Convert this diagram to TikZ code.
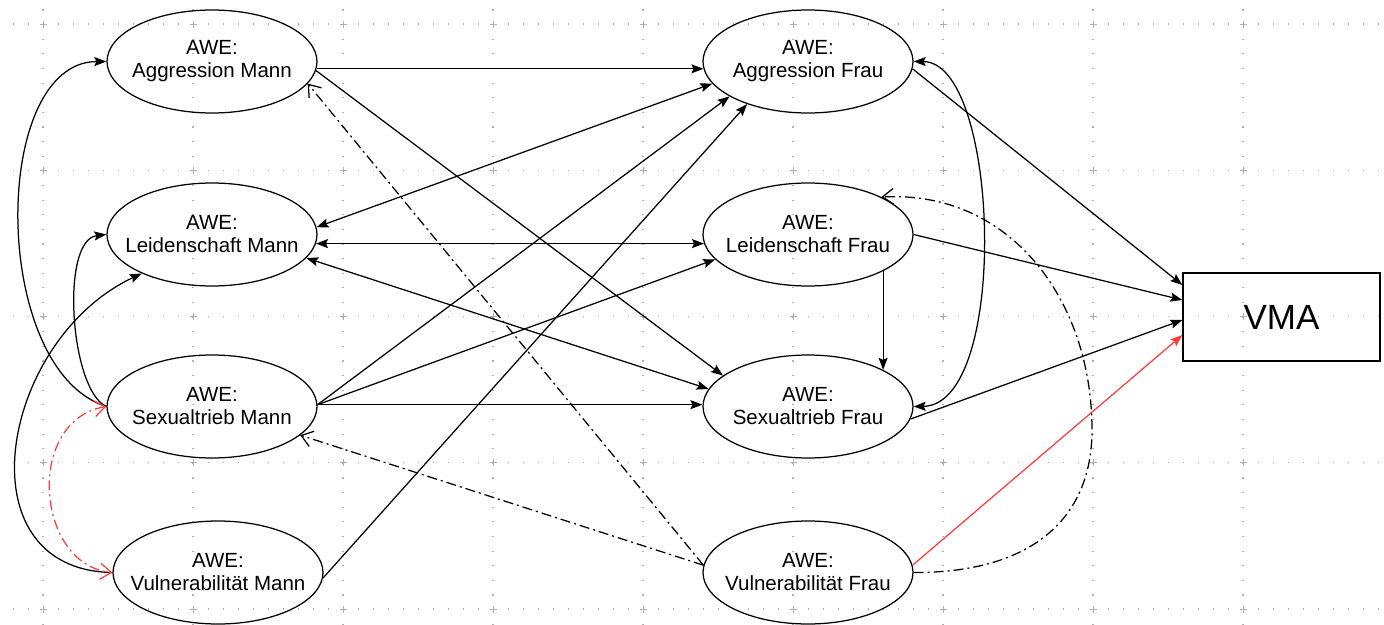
\documentclass[tikz,border=0pt]{standalone}
\usepackage{fontspec}
\setmainfont{Liberation Sans}
\usetikzlibrary{shapes.geometric,arrows.meta}
\definecolor{gridc}{RGB}{175,175,175}
\definecolor{vred}{RGB}{255,60,60}
\begin{document}
\begin{tikzpicture}[x=1pt,y=-1pt,
  var/.style={ellipse, draw, line width=1.25pt, minimum width=210pt, minimum height=103pt,
    inner sep=0pt, label={[font=\fontsize{20.5}{23}\selectfont, align=center]center:#1}},
  box/.style={rectangle, draw, line width=1.25pt, minimum width=197pt, minimum height=88pt,
    inner sep=0pt, font=\fontsize{35}{40}\selectfont},
  con/.style={line width=1.25pt, -{Stealth[length=12pt,width=9pt,inset=2pt]}},
  bi/.style={line width=1.25pt, {Stealth[length=12pt,width=9pt,inset=2pt]}-{Stealth[length=12pt,width=9pt,inset=2pt]}},
  dd/.style={line width=1.25pt, dash pattern=on 10pt off 4pt on 2pt off 4pt, -{Straight Barb[length=11pt,width=16pt]}},
  rdd/.style={vred, line width=1.25pt, dash pattern=on 10pt off 4pt on 2pt off 4pt,
    {Straight Barb[length=11pt,width=16pt]}-{Straight Barb[length=11pt,width=16pt]}},
  gridline/.style={gridc, line width=1.2pt}
]
\useasboundingbox (0,0) rectangle (1384,624);
% grid
\foreach \x in {43,193,...,1243}
  \draw[gridline, dash pattern=on 1.2pt off 13.425pt] (\x,-5.25) -- (\x,630);
\foreach \y in {24,170.25,316.5,462.75,609}
  \draw[gridline, dash pattern=on 1.2pt off 13.8pt] (-2,\y) -- (1390,\y);
\foreach \x in {43,193,...,1243}
  \foreach \y in {24,170.25,316.5,462.75,609}
    \draw[gridline, line width=0.9pt] (\x-3.5,\y) -- (\x+3.5,\y) (\x,\y-3.5) -- (\x,\y+3.5);
% nodes
\node[var={AWE:\\Aggression Mann}] (AgM)   at (212,61.5)  {};
\node[var={AWE:\\Leidenschaft Mann}] (LeidM) at (212,234.5) {};
\node[var={AWE:\\Sexualtrieb Mann}] (SexM)  at (212,406.5) {};
\node[var={AWE:\\Vulnerabilität Mann}] (VulM)  at (218,572.5) {};
\node[var={AWE:\\Aggression Frau}] (AgF)   at (808,61.5)  {};
\node[var={AWE:\\Leidenschaft Frau}] (LeidF) at (808,234.5) {};
\node[var={AWE:\\Sexualtrieb Frau}] (SexF)  at (808,406.5) {};
\node[var={AWE:\\Vulnerabilität Frau}] (VulF)  at (808,572.5) {};
\node[box] (VMA)   at (1281.5,317) {VMA};
% connectors
\draw[con] (AgM.-4) -- (AgF.184);
\draw[con] (AgM.-5) -- (SexF.160);
\draw[bi] (LeidM.4) -- (AgF.193);
\draw[bi] (LeidM.-5) -- (LeidF.185);
\draw[bi] (LeidM.-14) -- (SexF.170);
\draw[con] (SexM.1) -- (AgF.204);
\draw[con] (SexM.1) -- (LeidF.195);
\draw[con] (SexM.1) -- (SexF.179);
\draw[con] (VulM.-3) -- (AgF.215);
\draw[con] (SexM.180) .. controls (-10,370) and (-10,62) .. (AgM.180);
\draw[con] (SexM.180) .. controls (70,390) and (60,240) .. (LeidM.180);
\draw[con] (VulM.180) .. controls (-40,570) and (0,340) .. (LeidM.209);
\draw[rdd] (SexM.180) .. controls (25,420) and (35,565) .. (VulM.180);
\draw[dd] (VulF.176) -- (AgM.-13);
\draw[dd] (VulF.176) -- (SexM.-18);
\draw[con, vred] (VulF.4) -- ([yshift=-18pt]VMA.west);
\draw[dd] (VulF.0) .. controls (1030,573) and (1092,520) .. (1092,430)
  .. controls (1092,300) and (1010,190) .. (LeidF.27);
\draw[con] (AgF.-4) -- ([yshift=32pt]VMA.west);
\draw[con] (LeidF.0) -- ([yshift=17pt]VMA.west);
\draw[con] (SexF.-7) -- ([yshift=-3pt]VMA.west);
\draw[con] (LeidF.-26) -- (SexF.26);
\draw[bi] (AgF.0) .. controls (1000,62) and (1010,405) .. (SexF.0);
\end{tikzpicture}
\end{document}
